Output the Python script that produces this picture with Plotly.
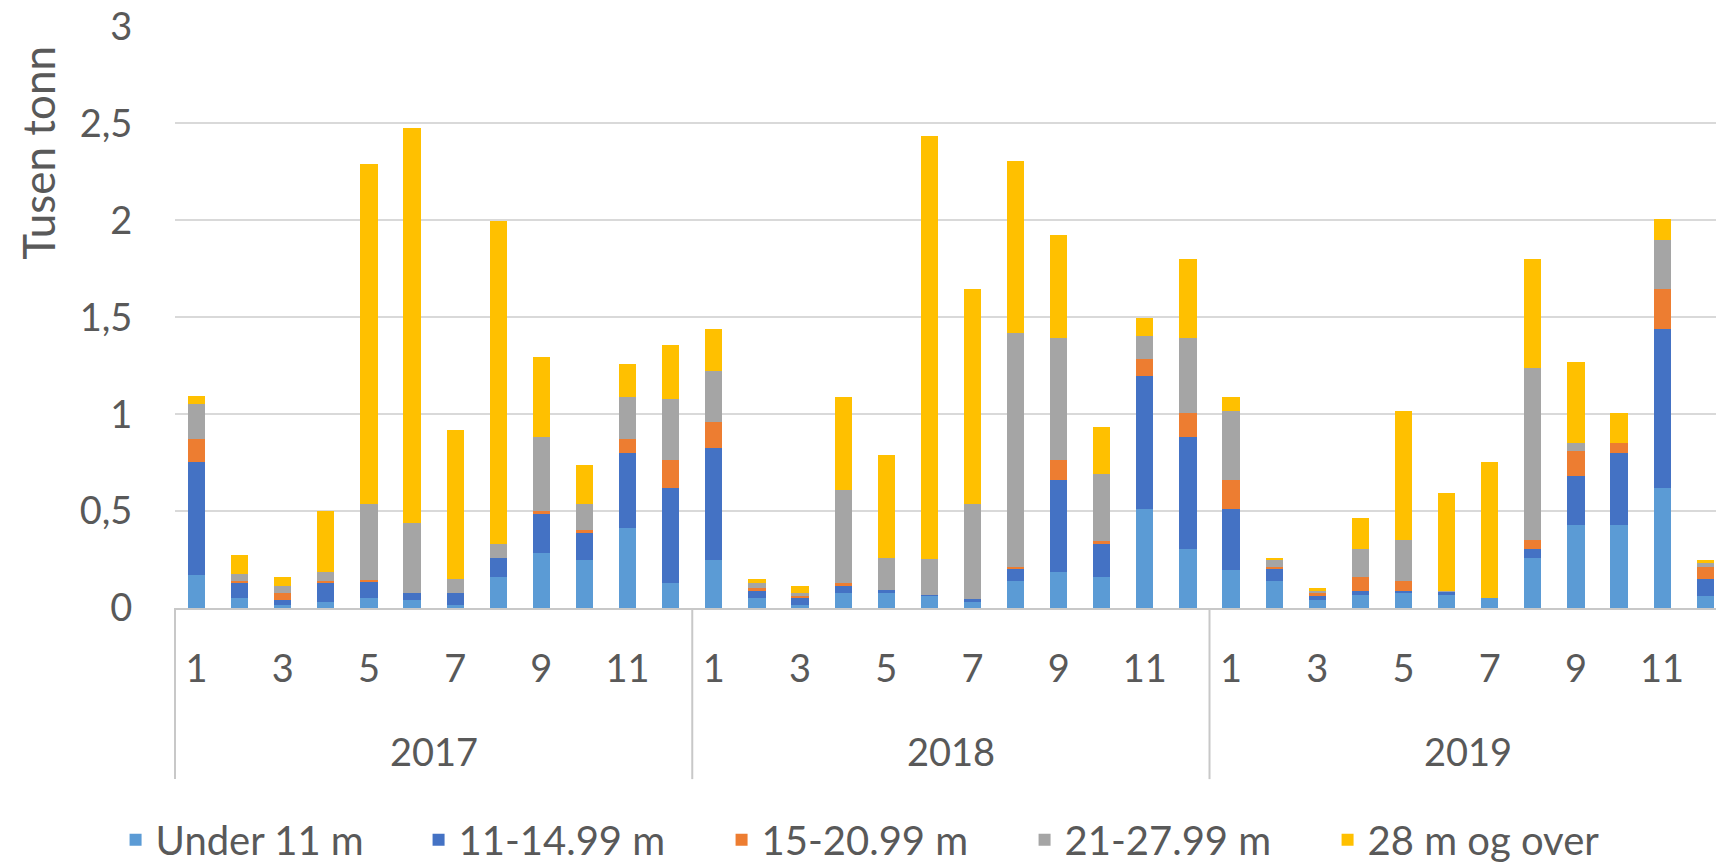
import plotly.graph_objects as go

years = ["2017", "2018", "2019"]
months = list(range(1, 13))

under_11 = [0.170, 0.053, 0.015, 0.031, 0.053, 0.041, 0.015, 0.161, 0.284, 0.247, 0.415, 0.127,
            0.247, 0.053, 0.015, 0.079, 0.079, 0.063, 0.036, 0.139, 0.187, 0.161, 0.512, 0.307,
            0.195, 0.139, 0.041, 0.067, 0.079, 0.067, 0.053, 0.259, 0.427, 0.427, 0.619, 0.063]
m11_15 = [0.582, 0.074, 0.026, 0.096, 0.086, 0.038, 0.064, 0.098, 0.203, 0.142, 0.385, 0.493,
          0.579, 0.034, 0.038, 0.036, 0.014, 0.005, 0.010, 0.060, 0.471, 0.171, 0.686, 0.577,
          0.317, 0.060, 0.022, 0.022, 0.010, 0.017, 0.000, 0.048, 0.253, 0.373, 0.822, 0.086]
m15_21 = [0.120, 0.012, 0.038, 0.012, 0.003, 0.000, 0.000, 0.000, 0.013, 0.012, 0.072, 0.144,
          0.132, 0.014, 0.010, 0.012, 0.000, 0.000, 0.000, 0.014, 0.108, 0.012, 0.086, 0.122,
          0.146, 0.014, 0.012, 0.072, 0.050, 0.000, 0.000, 0.046, 0.132, 0.050, 0.203, 0.060]
m21_28 = [0.180, 0.036, 0.034, 0.046, 0.396, 0.360, 0.070, 0.073, 0.384, 0.134, 0.218, 0.314,
          0.266, 0.026, 0.016, 0.483, 0.166, 0.184, 0.489, 1.204, 0.626, 0.348, 0.120, 0.386,
          0.360, 0.034, 0.014, 0.146, 0.214, 0.003, 0.000, 0.883, 0.038, 0.000, 0.253, 0.024]
over_28 = [0.040, 0.096, 0.048, 0.314, 1.751, 2.039, 0.771, 1.663, 0.412, 0.205, 0.168, 0.278,
           0.214, 0.022, 0.034, 0.480, 0.531, 2.185, 1.109, 0.891, 0.531, 0.240, 0.094, 0.409,
           0.072, 0.012, 0.012, 0.157, 0.665, 0.508, 0.699, 0.565, 0.420, 0.154, 0.112, 0.014]

series = [
    ("Under 11 m", under_11, "#5B9BD5"),
    ("11-14.99 m", m11_15, "#4472C4"),
    ("15-20.99 m", m15_21, "#ED7D31"),
    ("21-27.99 m", m21_28, "#A5A5A5"),
    ("28 m og over", over_28, "#FFC000"),
]

FONT = "Lato"
GREY_TXT = "#595959"

pos = list(range(len(years) * len(months)))
x_lo, x_hi = -0.5, 35.25

fig = go.Figure()
for name, vals, col in series:
    fig.add_trace(go.Bar(x=pos, y=vals, name=name, marker_color=col,
                         marker_line_width=0, width=0.4))

# month ticks (odd months only)
tickvals = [i for i in pos if months[i % 12] % 2 == 1]
ticktext = [str(months[i % 12]) for i in tickvals]


def px(v):
    return (v - x_lo) / (x_hi - x_lo)


shapes = []
annotations = []
for k, yr in enumerate(years):
    start = k * 12 - 0.5
    shapes.append(dict(type="line", xref="paper", yref="paper",
                       x0=px(start), x1=px(start), y0=0, y1=-0.294,
                       line=dict(color="#c8c8c8", width=2)))
    annotations.append(dict(text=yr, x=k * 12 + 5.5, xref="x", y=-0.246, yref="paper",
                            yanchor="middle", showarrow=False,
                            font=dict(family=FONT, size=38, color=GREY_TXT)))

annotations.append(dict(text="Tusen tonn", textangle=-90, x=-0.089, xref="paper",
                        y=0.782, yref="paper", showarrow=False,
                        xanchor="center", yanchor="middle",
                        font=dict(family=FONT, size=44, color=GREY_TXT)))

fig.update_layout(
    barmode="stack",
    width=1716,
    height=866,
    margin=dict(l=175, r=0, t=26, b=258, autoexpand=False),
    plot_bgcolor="white",
    paper_bgcolor="white",
    showlegend=True,
    legend=dict(orientation="h", x=0.453, xanchor="center", y=-0.398, yanchor="middle",
                font=dict(family=FONT, size=40, color=GREY_TXT),
                entrywidth=258, traceorder="normal"),
    shapes=shapes,
    annotations=annotations,
    separators=", ",
)
fig.update_xaxes(range=[x_lo, x_hi], tickvals=tickvals, ticktext=ticktext,
                 showgrid=False, zeroline=False, showline=True, linecolor="#c8c8c8",
                 linewidth=2, ticks="outside", ticklen=26, tickcolor="rgba(0,0,0,0)",
                 tickfont=dict(family=FONT, size=38, color=GREY_TXT))
fig.update_yaxes(range=[0, 3.003], dtick=0.5, showgrid=True, gridcolor="#d9d9d9", gridwidth=2,
                 zeroline=False, tickformat=".1~f", ticklabeloverflow="allow",
                 ticks="outside", ticklen=34, tickcolor="rgba(0,0,0,0)",
                 tickfont=dict(family=FONT, size=38, color=GREY_TXT))

# drop the default page margin so the figure fills the window exactly
fig.write_html("out.html", config={"displayModeBar": False},
               post_script="document.body.style.margin = '0';")
